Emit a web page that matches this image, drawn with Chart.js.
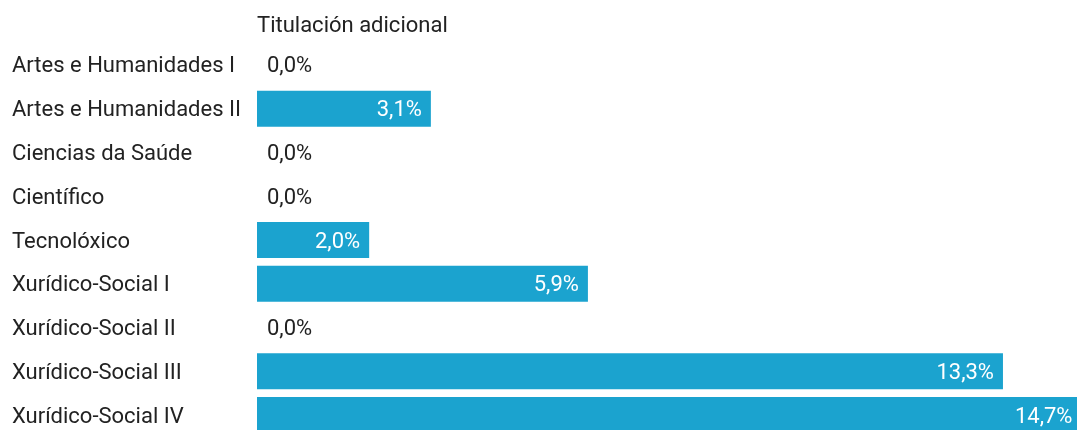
<!DOCTYPE html>
<html>
<head>
<meta charset="utf-8">
<script src="https://cdn.jsdelivr.net/npm/chart.js@4/dist/chart.umd.min.js"></script>
<style>
    html, body { margin: 0; padding: 0; background: #fff; overflow: hidden; }
    .chart-box { position: relative; width: 1077px; height: 437px; }
</style>
</head>
<body>
<div class="chart-box"><canvas id="chart"></canvas></div>
<script>
const categories = [
    "Artes e Humanidades I",
    "Artes e Humanidades II",
    "Ciencias da Saúde",
    "Científico",
    "Tecnolóxico",
    "Xurídico-Social I",
    "Xurídico-Social II",
    "Xurídico-Social III",
    "Xurídico-Social IV",
];
const values = [0.0, 3.1, 0.0, 0.0, 2.0, 5.9, 0.0, 13.3, 14.7];
const seriesName = "Titulación adicional";

const barColor = "#1ba3cf";
const textColor = "#222222";
const fontFamily = "Roboto, 'Noto Sans', sans-serif";
const textShift = 2; // canvas 'middle' sits a bit high compared with the reference

/**
 * Nudges the axis texts down a little (drawn before the bars)
 */
const textNudge = {
    id: "textNudge",
    beforeDraw(chart) {
        chart.ctx.save();
        chart.ctx.translate(0, textShift);
    },
    beforeDatasetsDraw(chart) {
        chart.ctx.restore();
    },
};

/**
 * Writes the value of every bar, inside in white or outside in dark
 */
const valueLabels = {
    id: "valueLabels",
    afterDatasetsDraw(chart) {
        const ctx = chart.ctx;
        const meta = chart.getDatasetMeta(0);
        ctx.save();
        ctx.font = "22px " + fontFamily;
        ctx.textBaseline = "middle";
        meta.data.forEach((bar, i) => {
            const text = values[i].toFixed(1).replace(".", ",") + "%";
            const w = ctx.measureText(text).width;
            const barWidth = bar.x - bar.base;
            if (barWidth > w + 20) {
                ctx.fillStyle = "#ffffff";
                ctx.textAlign = "right";
                ctx.fillText(text, bar.x - 9, bar.y + textShift);
            } else {
                ctx.fillStyle = textColor;
                ctx.textAlign = "left";
                ctx.fillText(text, bar.x + 10, bar.y + textShift);
            }
        });
        ctx.restore();
    },
};

new Chart(document.getElementById("chart"), {
    type: "bar",
    data: {
        labels: categories,
        datasets: [{
            label: seriesName,
            data: values,
            backgroundColor: barColor,
            borderWidth: 0,
            categoryPercentage: 1,
            barPercentage: 0.823,
        }],
    },
    options: {
        indexAxis: "y",
        responsive: true,
        maintainAspectRatio: false,
        animation: false,
        layout: { padding: { left: 12, right: 0, top: 0, bottom: 0 } },
        plugins: {
            legend: { display: false },
            tooltip: { enabled: false },
        },
        scales: {
            x: {
                position: "top",
                min: 0,
                max: 14.62,
                grid: { display: false, drawTicks: false },
                border: { display: false },
                ticks: { display: false },
                title: {
                    display: true,
                    text: seriesName,
                    align: "start",
                    color: textColor,
                    font: { family: fontFamily, size: 22 },
                    padding: { top: 10.8, bottom: 5.9 },
                },
            },
            y: {
                grid: { display: false },
                border: { display: false },
                afterFit(scale) {
                    scale.width = 245;
                    scale.paddingTop = 0;
                    scale.paddingBottom = 0;
                },
                ticks: {
                    crossAlign: "far",
                    color: textColor,
                    font: { family: fontFamily, size: 22 },
                },
            },
        },
    },
    plugins: [textNudge, valueLabels],
});
</script>
</body>
</html>
